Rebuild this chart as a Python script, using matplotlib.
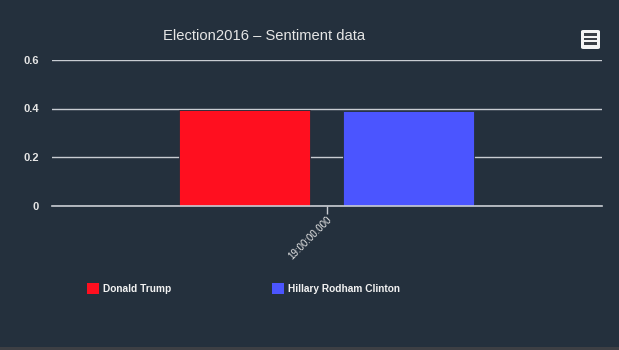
import matplotlib.pyplot as plt
from matplotlib.patches import Rectangle, FancyBboxPatch

# Data
categories = ["19:00:00.000"]
series_names = ["Donald Trump", "Hillary Rodham Clinton"]
series_values = [[0.394], [0.390]]
series_colors = ["#ff0f1f", "#4b55ff"]
y_ticks = [0, 0.2, 0.4, 0.6]
y_tick_labels = ["0", "0.2", "0.4", "0.6"]

bg = "#24303d"
grid_color = "#c8ccd2"
text_color = "#e6e6e6"
sans = ["Liberation Sans", "DejaVu Sans"]

fig = plt.figure(figsize=(6.19, 3.5), dpi=100, facecolor=bg)
ax = fig.add_axes([52 / 619, 1 - 205.5 / 350, 550 / 619, 145.5 / 350])
ax.set_facecolor(bg)

# Bars
bar_w = 0.238
offsets = [-0.150, 0.148]
for i, name in enumerate(series_names):
    xs = [c + offsets[i] for c in range(len(categories))]
    ax.bar(xs, series_values[i], width=bar_w, color=series_colors[i],
           edgecolor=bg, linewidth=0.6, zorder=3, label=name)

ax.set_xlim(-0.5, len(categories) - 0.5)
ax.set_ylim(0, 0.6)

# Grid and axes
ax.set_yticks(y_ticks)
ax.set_yticklabels(y_tick_labels, color=text_color, fontsize=8,
                   fontweight="bold", family=sans)
ax.yaxis.grid(True, color=grid_color, linewidth=1, zorder=1)
ax.tick_params(axis="y", length=0, pad=9.5)
for s in ax.spines.values():
    s.set_visible(False)
ax.axhline(0, color=grid_color, linewidth=1.2, zorder=4, clip_on=False)

ax.set_xticks(range(len(categories)))
ax.set_xticklabels(categories, rotation=45, ha="right", rotation_mode="anchor",
                   color=text_color, fontsize=7, family=sans)
ax.tick_params(axis="x", length=6, width=1, color=grid_color, pad=0.5)

# Title
fig.text(264 / 619, 1 - 36 / 350, "Election2016 \u2013 Sentiment data",
         ha="center", va="center", color=text_color, fontsize=10.6,
         family=sans)

# Menu button
btn = FancyBboxPatch((581 / 619, 1 - 49 / 350), 19 / 619, 19 / 350,
                     boxstyle="round,pad=0,rounding_size=0.004",
                     transform=fig.transFigure, facecolor="#f4f4f4",
                     edgecolor="none")
fig.patches.append(btn)
for yy in [34.5, 39, 43.5]:
    fig.patches.append(Rectangle((584 / 619, 1 - (yy + 1.4) / 350), 13 / 619,
                                 2.8 / 350, transform=fig.transFigure,
                                 facecolor="#3a3f46", edgecolor="none"))

# Legend (manual placement like the original)
legend_x = [87, 272]
for i, name in enumerate(series_names):
    fig.patches.append(Rectangle((legend_x[i] / 619, 1 - 294 / 350), 12 / 619,
                                 11 / 350, transform=fig.transFigure,
                                 facecolor=series_colors[i], edgecolor="none"))
    fig.text((legend_x[i] + 16) / 619, 1 - 289 / 350, name, ha="left",
             va="center", color="#f2f2f2", fontsize=7.3, fontweight="bold",
             family=sans)

# Bottom strip
fig.patches.append(Rectangle((0, 0), 1, 3.3 / 350, transform=fig.transFigure,
                             facecolor="#3d3f44", edgecolor="none"))

fig.savefig("out.png", dpi=100, facecolor=bg)
